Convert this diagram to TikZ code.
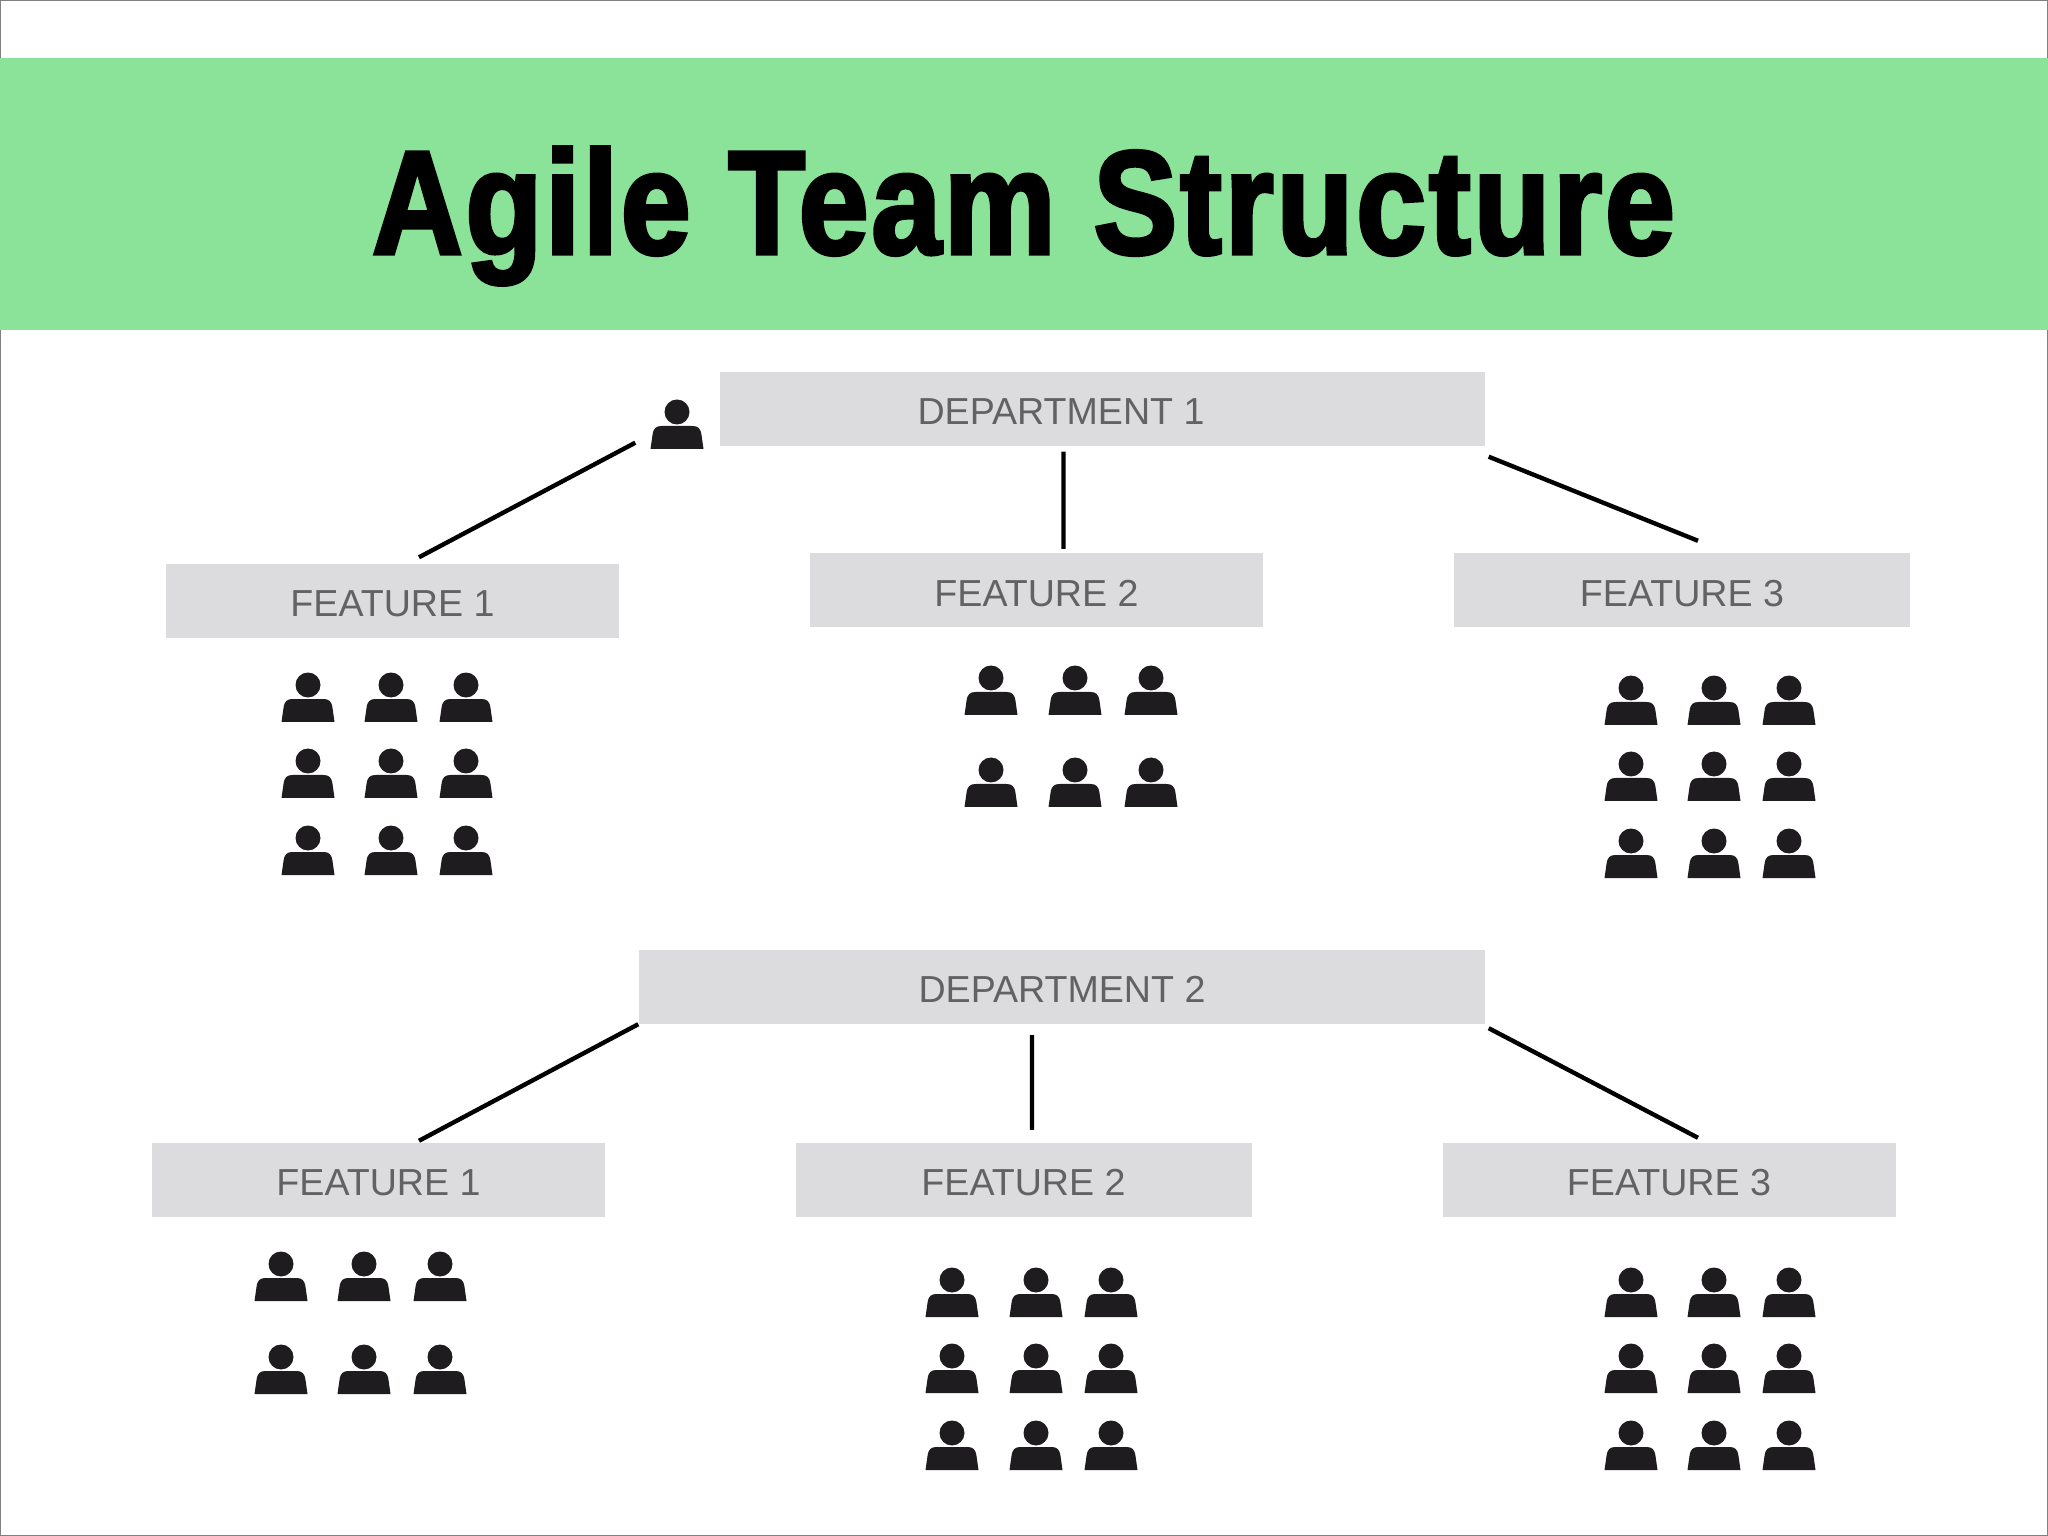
\documentclass[tikz,border=0pt]{standalone}
\usepackage{fontspec}
\setmainfont{Liberation Sans}
\newfontfamily\titlefont[FakeStretch=0.85,LetterSpace=2,BoldFeatures={FakeBold=2.5}]{Liberation Sans}
\definecolor{bannergreen}{HTML}{8BE39A}
\definecolor{boxgray}{HTML}{DCDCDE}
\definecolor{textgray}{HTML}{626264}
\definecolor{persongray}{HTML}{1E1C1E}
\tikzset{
	boxtext/.style={inner sep=0pt,text=textgray,text height=9.1pt,text depth=0pt,font=\fontsize{10.7}{12}\selectfont},
	box/.style={boxtext,fill=boxgray,minimum height=0.74cm,minimum width=4.53cm},
	link/.style={line width=1.25pt},
	person/.pic={
		\fill[persongray] (0,0) circle (0.125);
		\fill[persongray] (-0.265,0.37) -- (-0.245,0.23) .. controls (-0.235,0.16) and (-0.21,0.14) .. (-0.15,0.14) -- (0.15,0.14) .. controls (0.21,0.14) and (0.235,0.16) .. (0.245,0.23) -- (0.265,0.37) -- cycle;
	}
}

\begin{document}
\begin{tikzpicture}[y=-1cm]
	\useasboundingbox (0,0) rectangle (20.48,15.36);
	\draw[gray,line width=0.3pt] (0,0) rectangle (20.48,15.36);
	\node[fill=bannergreen,minimum width=20.48cm,minimum height=2.72cm,inner sep=0pt] (Banner) at (10.24,1.94) {};
	\node[font=\titlefont\bfseries\fontsize{42}{46}\selectfont] (Title) at (10.235,2.16) {Agile Team Structure};

	\node[box,minimum width=7.65cm] (Dept1) at (11.025,4.09) {};
	\node[boxtext] (Dept1Text) at (10.61,4.09) {DEPARTMENT 1};
	\node[box] (Feat1A) at (3.925,6.01) {FEATURE 1};
	\node[box] (Feat2A) at (10.365,5.905) {FEATURE 2};
	\node[box,minimum width=4.56cm] (Feat3A) at (16.82,5.905) {FEATURE 3};
	\node[box,minimum width=8.46cm] (Dept2) at (10.62,9.865) {DEPARTMENT 2};
	\node[box] (Feat1B) at (3.785,11.795) {FEATURE 1};
	\node[box,minimum width=4.56cm] (Feat2B) at (10.235,11.795) {FEATURE 2};
	\node[box] (Feat3B) at (16.69,11.795) {FEATURE 3};

	\draw[link] ([shift={(-0.84,-0.04)}]Dept1.south west) -- ([shift={(0.265,-0.06)}]Feat1A.north);
	\draw[link] ([shift={(-0.39,0.05)}]Dept1.south) -- ([shift={(0.27,-0.04)}]Feat2A.north);
	\draw[link] ([shift={(0.03,0.10)}]Dept1.south east) -- ([shift={(0.16,-0.12)}]Feat3A.north);
	\draw[link] (Dept2.south west) -- ([shift={(0.405,-0.01)}]Feat1B.north);
	\draw[link] ([shift={(-0.30,0.11)}]Dept2.south) -- ([shift={(0.085,-0.12)}]Feat2B.north);
	\draw[link] ([shift={(0.03,0.04)}]Dept2.south east) -- ([shift={(0.29,-0.04)}]Feat3B.north);

	\pic (Lead) at (6.77,4.12) {person};
	\foreach \x in {3.08,3.91,4.66} \foreach \y in {6.85,7.61,8.38} \pic at (\x,\y) {person};
	\foreach \x in {9.91,10.75,11.51} \foreach \y in {6.78,7.70} \pic at (\x,\y) {person};
	\foreach \x in {16.31,17.14,17.89} \foreach \y in {6.88,7.64,8.41} \pic at (\x,\y) {person};
	\foreach \x in {2.81,3.64,4.40} \foreach \y in {12.64,13.57} \pic at (\x,\y) {person};
	\foreach \x in {9.52,10.36,11.11} \foreach \y in {12.80,13.56,14.33} \pic at (\x,\y) {person};
	\foreach \x in {16.31,17.14,17.89} \foreach \y in {12.80,13.56,14.33} \pic at (\x,\y) {person};
\end{tikzpicture}
\end{document}
